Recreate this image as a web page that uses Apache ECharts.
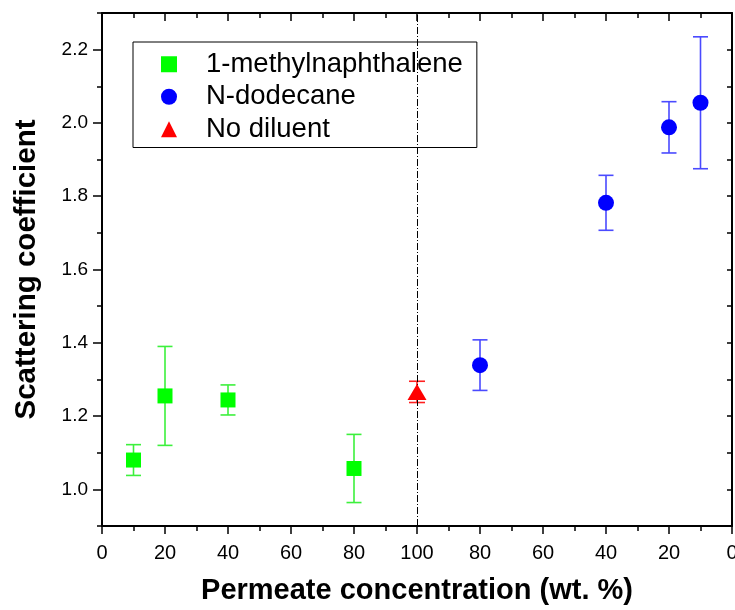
<!DOCTYPE html>
<html>
<head>
<meta charset="utf-8">
<script src="https://cdn.jsdelivr.net/npm/echarts@6/dist/echarts.min.js"></script>
<style>html,body{margin:0;padding:0;background:#fff}#c{width:735px;height:610px}</style>
</head>
<body>
<div id="c"></div>
<script>
// ---- data ----
const mnConc = [10, 20, 40, 80];            // 1-methylnaphthalene wt.%
const mnScatter = [1.080, 1.255, 1.244, 1.057];
const mnErr = [0.042, 0.135, 0.041, 0.093];
const ndConc = [80, 40, 20, 10];            // N-dodecane wt.% (right half, mirrored axis)
const ndScatter = [1.339, 1.782, 1.988, 2.055];
const ndErr = [0.069, 0.075, 0.070, 0.180];
const noDilConc = [100];
const noDilScatter = [1.266];
const noDilErr = [0.029];
const xTickLabels = ['0','20','40','60','80','100','80','60','40','20','0'];
const yTickLabels = ['1.0','1.2','1.4','1.6','1.8','2.0','2.2'];
const yMajorValues = yTickLabels.map(Number);

// axis position: left half = 1-methylnaphthalene conc, right half mirrored (200 - conc)
const mnPos = mnConc.map(c => c);
const ndPos = ndConc.map(c => 200 - c);
const noDilPos = noDilConc.map(c => c);

const mnPts = mnPos.map((x, i) => [x, mnScatter[i]]);
const ndPts = ndPos.map((x, i) => [x, ndScatter[i]]);
const noDilPts = noDilPos.map((x, i) => [x, noDilScatter[i]]);
const mnErrPts = mnPos.map((x, i) => [x, mnScatter[i], mnErr[i]]);
const ndErrPts = ndPos.map((x, i) => [x, ndScatter[i], ndErr[i]]);
const noDilErrPts = noDilPos.map((x, i) => [x, noDilScatter[i], noDilErr[i]]);

const FONT = '"Liberation Sans", Arial, Helvetica, sans-serif';

function errRender(color, half) {
  return function (params, api) {
    const x = api.value(0), y = api.value(1), e = api.value(2);
    const t = api.coord([x, y + e]);
    const b = api.coord([x, y - e]);
    const st = { stroke: color, lineWidth: 1.6 };
    return {
      type: 'group',
      children: [
        { type: 'line', shape: { x1: t[0], y1: t[1], x2: b[0], y2: b[1] }, style: st },
        { type: 'line', shape: { x1: t[0] - half, y1: t[1], x2: t[0] + half, y2: t[1] }, style: st },
        { type: 'line', shape: { x1: b[0] - half, y1: b[1], x2: b[0] + half, y2: b[1] }, style: st }
      ]
    };
  };
}

const axisLineStyle = { color: '#000', width: 2 };
const tickStyle = { color: '#000', width: 1.5 };

function yLabel(v) {
  const i = yMajorValues.findIndex(m => Math.abs(m - v) < 1e-6);
  return i >= 0 ? yTickLabels[i] : '';
}

const chart = echarts.init(document.getElementById('c'), null, { renderer: 'canvas' });
chart.setOption({
  animation: false,
  backgroundColor: '#fff',
  grid: { left: 102, right: 3, top: 13, bottom: 84, containLabel: false, outerBoundsMode: 'none' },
  legend: {
    orient: 'vertical',
    left: 133, top: 42,
    padding: [6, 14, 2, 28],
    borderColor: '#000', borderWidth: 1,
    itemWidth: 16, itemHeight: 16, itemGap: 0,
    data: ['1-methylnaphthalene', 'N-dodecane', 'No diluent'],
    textStyle: { fontFamily: FONT, fontSize: 27.5, color: '#000', lineHeight: 32.5, padding: [0, 0, 0, 24] }
  },
  xAxis: [
    {
      type: 'value', position: 'bottom', min: 0, max: 200, interval: 20,
      name: 'Permeate concentration (wt. %)', nameLocation: 'middle', nameGap: 50,
      nameTextStyle: { fontFamily: FONT, fontSize: 29, fontWeight: 'bold', color: '#000' },
      axisLine: { show: true, onZero: false, lineStyle: axisLineStyle },
      axisTick: { show: true, inside: false, length: 8, lineStyle: tickStyle },
      minorTick: { show: true, splitNumber: 2, length: 5, lineStyle: tickStyle },
      axisLabel: { fontFamily: FONT, fontSize: 20, color: '#000', margin: 17,
        formatter: v => xTickLabels[Math.round(v / 20)] },
      splitLine: { show: false }, minorSplitLine: { show: false }
    },
    {
      type: 'value', position: 'top', min: 0, max: 200, interval: 20,
      axisLine: { show: true, onZero: false, lineStyle: axisLineStyle },
      axisTick: { show: true, inside: true, length: 8, lineStyle: tickStyle },
      minorTick: { show: true, splitNumber: 2, length: 5, lineStyle: tickStyle },
      axisLabel: { show: false },
      splitLine: { show: false }
    }
  ],
  yAxis: [
    {
      type: 'value', position: 'left', min: 0.9, max: 2.3, interval: 0.1,
      name: 'Scattering coefficient', nameLocation: 'middle', nameGap: 60,
      nameTextStyle: { fontFamily: FONT, fontSize: 29.5, fontWeight: 'bold', color: '#000' },
      axisLine: { show: true, onZero: false, lineStyle: axisLineStyle },
      axisTick: { show: true, inside: false, length: 5, lineStyle: tickStyle },
      axisLabel: { fontFamily: FONT, fontSize: 19, color: '#000', margin: 14, formatter: yLabel },
      splitLine: { show: false }
    },
    {
      type: 'value', position: 'left', min: 0.9, max: 2.3,
      axisLine: { show: false },
      axisTick: { show: true, inside: false, length: 9, lineStyle: tickStyle, customValues: yMajorValues },
      axisLabel: { show: false },
      splitLine: { show: false }
    },
    {
      type: 'value', position: 'right', min: 0.9, max: 2.3, interval: 0.1,
      axisLine: { show: true, onZero: false, lineStyle: axisLineStyle },
      axisTick: { show: true, inside: true, length: 5, lineStyle: tickStyle },
      axisLabel: { show: false },
      splitLine: { show: false }
    },
    {
      type: 'value', position: 'right', min: 0.9, max: 2.3,
      axisLine: { show: false },
      axisTick: { show: true, inside: true, length: 9, lineStyle: tickStyle, customValues: yMajorValues },
      axisLabel: { show: false },
      splitLine: { show: false }
    }
  ],
  series: [
    { type: 'custom', name: 'mnErr', data: mnErrPts, renderItem: errRender('#3cf03c', 7.5), z: 2, silent: true },
    { type: 'custom', name: 'ndErr', data: ndErrPts, renderItem: errRender('#4a4aff', 7.5), z: 2, silent: true },
    { type: 'custom', name: 'noErr', data: noDilErrPts, renderItem: errRender('#ff2020', 8), z: 2, silent: true },
    { type: 'scatter', name: '1-methylnaphthalene', data: mnPts, symbol: 'rect', symbolSize: 15,
      itemStyle: { color: '#00ff00', opacity: 1 }, z: 5,
      markLine: {
        silent: true, symbol: 'none', label: { show: false },
        lineStyle: { color: '#000', width: 1, type: [7, 2, 1, 2] },
        data: [{ xAxis: 100 }]
      }
    },
    { type: 'scatter', name: 'N-dodecane', data: ndPts, symbol: 'circle', symbolSize: 16,
      itemStyle: { color: '#0000ff', opacity: 1 }, z: 5 },
    { type: 'scatter', name: 'No diluent', data: noDilPts, symbol: 'triangle', symbolSize: [19, 16],
      itemStyle: { color: '#ff0000', opacity: 1 }, z: 5 }
  ]
});
</script>
</body>
</html>
